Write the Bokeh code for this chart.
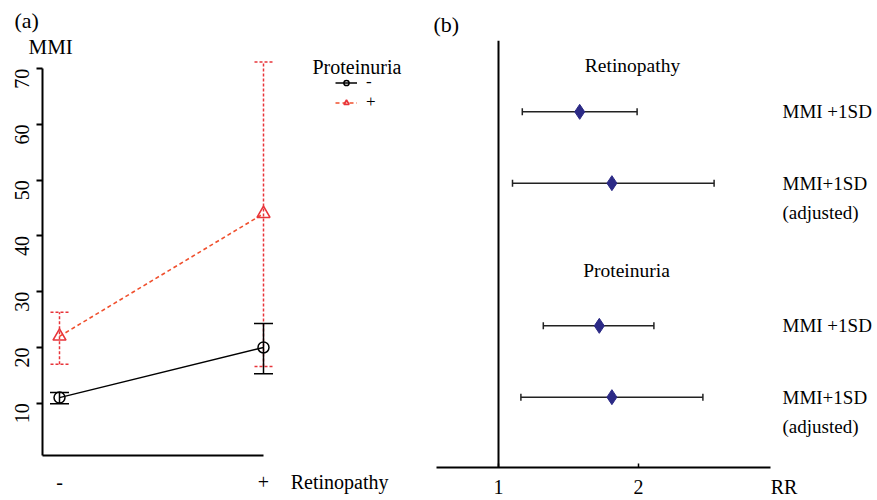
import math
from bokeh.plotting import figure
from bokeh.models import (Range1d, LinearAxis, FixedTicker, Whisker, ColumnDataSource,
                          TeeHead, Legend, LegendItem, Label, Span, Title)
from bokeh.layouts import row
from bokeh.embed import file_html
from bokeh.resources import INLINE

# ---------------- data: panel (a) ----------------
retino_cats = ["-", "+"]
neg_mean = [11.0, 20.0]
neg_lo = [9.9, 15.3]
neg_hi = [11.9, 24.3]
pos_mean = [22.0, 44.0]
pos_lo = [17.0, 16.6]
pos_hi = [26.3, 71.2]
y_ticks = [10, 20, 30, 40, 50, 60, 70]
protein_labels = ["-", "+"]

# ---------------- data: panel (b) ----------------
outcomes = ["Retinopathy", "Proteinuria"]
models = ["MMI +1SD", "MMI+1SD\n(adjusted)"]
rr = [1.58, 1.81, 1.72, 1.81]
rr_lo = [1.17, 1.10, 1.32, 1.16]
rr_hi = [1.99, 2.54, 2.11, 2.46]
rr_ticks = [1, 2]
null_rr = 1

FONT = "Liberation Serif"
RED = "#e8343a"
RED_LINE = "#f0502e"
NAVY = "#2c2a86"


def txt(**kw):
    base = dict(text_font=FONT, text_color="black")
    base.update(kw)
    return base


# ================= panel (a) =================
# frame: x 42..425, y 58..455 (canvas pixels)
XA0 = -17 / 204.0
XA1 = (425 - 59) / 204.0
YA0 = 10 - (455 - 402.7) / 5.573
YA1 = 70 + (68.3 - 58) / 5.573


def ax(px):
    return XA0 + (px - 42) / 204.0


def ay(py):
    return YA0 + (455 - py) / 5.573


pa = figure(width=425, height=500, x_range=Range1d(XA0, XA1), y_range=Range1d(YA0, YA1),
            x_axis_type=None, y_axis_type=None, output_backend="svg", toolbar_location=None,
            title=None, min_border_left=42, min_border_right=0, min_border_top=58,
            min_border_bottom=45, frame_align=False)
pa.outline_line_color = None

pa.add_layout(Title(text="MMI", align="left", offset=28 - 42, standoff=0,
                    text_font_size="21px", text_font_style="normal", **txt()), "above")
pa.add_layout(Title(text="(a)", align="left", offset=14 - 42, standoff=0,
                    text_font_size="22px", text_font_style="normal", **txt()), "above")

xs = list(range(len(retino_cats)))
RETINO_POS = 1.373          # where the x-axis title sits, right of "+"
xticks_a = xs + [RETINO_POS]
xlabels_a = {i: c for i, c in enumerate(retino_cats)}
xlabels_a[RETINO_POS] = "Retinopathy"

yaxis = LinearAxis(ticker=FixedTicker(ticks=y_ticks), bounds=(YA0, 70),
                   axis_line_width=2, major_tick_line_width=2, major_tick_out=6, major_tick_in=0,
                   minor_tick_out=0, minor_tick_in=0, major_label_orientation=math.pi / 2,
                   major_label_text_font=FONT, major_label_text_font_size="20px",
                   major_label_text_color="black", major_label_standoff=14)
pa.add_layout(yaxis, "left")

xaxis = LinearAxis(ticker=FixedTicker(ticks=xticks_a), major_label_overrides=xlabels_a,
                   bounds=(XA0, xs[-1]), axis_line_width=2, major_tick_out=0, major_tick_in=0,
                   minor_tick_out=0, minor_tick_in=0,
                   major_label_text_font=FONT, major_label_text_font_size="20px",
                   major_label_text_color="black", major_label_standoff=15)
pa.add_layout(xaxis, "below")

src_neg = ColumnDataSource(dict(x=xs, m=neg_mean, lo=neg_lo, hi=neg_hi))
src_pos = ColumnDataSource(dict(x=xs, m=pos_mean, lo=pos_lo, hi=pos_hi))

w_pos = Whisker(base="x", upper="hi", lower="lo", source=src_pos, dimension="height",
                line_color=RED, line_width=1.5, line_dash="3 2",
                upper_head=TeeHead(size=18, line_color=RED, line_width=1.5, line_dash="3 2"),
                lower_head=TeeHead(size=18, line_color=RED, line_width=1.5, line_dash="3 2"))
w_neg = Whisker(base="x", upper="hi", lower="lo", source=src_neg, dimension="height",
                line_color="black", line_width=1.5,
                upper_head=TeeHead(size=19, line_color="black", line_width=1.5),
                lower_head=TeeHead(size=19, line_color="black", line_width=1.5))
pa.add_layout(w_pos)
pa.add_layout(w_neg)

neg_line = pa.line("x", "m", source=src_neg, line_color="black", line_width=1.5)
neg_pts = pa.scatter("x", "m", source=src_neg, marker="circle", size=11, fill_color=None,
                     line_color="black", line_width=1.5)
pos_line = pa.line("x", "m", source=src_pos, line_color=RED_LINE, line_width=1.6, line_dash="4 3")
pos_pts = pa.scatter("x", "m", source=src_pos, marker="triangle", size=13, fill_color=None,
                     line_color=RED, line_width=1.6)

legend = Legend(items=[LegendItem(label=protein_labels[0], renderers=[neg_line, neg_pts]),
                       LegendItem(label=protein_labels[1], renderers=[pos_line, pos_pts])],
                location=(335 - 42, 455 - 112), glyph_width=22, glyph_height=13, label_height=19,
                label_standoff=9, padding=0, spacing=0, margin=0,
                border_line_color=None, background_fill_alpha=0,
                label_text_font=FONT, label_text_font_size="17px", label_text_color="black")
pa.add_layout(legend)

pa.add_layout(Label(x=ax(312), y=ay(67), text="Proteinuria", text_font_size="20px",
                    text_align="left", text_baseline="middle", **txt()))

# ================= panel (b) =================
# frame: x 436..877, y 40..468 (page pixels)
XB0 = 1 - 62 / 140.0
XB1 = 1 + (877 - 498) / 140.0
YB_TOP = -1.0
YB_BOT = (468 - 111.5) / 71.5


def bx(px):
    return 1 + (px - 498) / 140.0


def by(py):
    return (py - 111.5) / 71.5


pb = figure(width=452, height=500, x_range=Range1d(XB0, XB1), y_range=Range1d(YB_BOT, YB_TOP),
            x_axis_type=None, y_axis_type=None, output_backend="svg", toolbar_location=None,
            title=None, min_border_left=11, min_border_right=0, min_border_top=40,
            min_border_bottom=32, frame_align=False)
pb.outline_line_color = None

pb.add_layout(Title(text="(b)", align="left", offset=-3, standoff=8,
                    text_font_size="22px", text_font_style="normal", **txt()), "above")

RR_POS = 3.04               # where the axis title "RR" sits
xticks_b = rr_ticks + [RR_POS]
bxaxis = LinearAxis(ticker=FixedTicker(ticks=xticks_b, minor_ticks=rr_ticks),
                    major_label_overrides={RR_POS: "RR"}, bounds=(XB0, bx(770)),
                    axis_line_width=2, major_tick_in=0, major_tick_out=0,
                    minor_tick_in=4, minor_tick_out=0, minor_tick_line_width=1.5,
                    minor_tick_line_color="black",
                    major_label_text_font=FONT, major_label_text_font_size="20px",
                    major_label_text_color="black", major_label_standoff=8)
pb.add_layout(bxaxis, "below")

pb.add_layout(Span(location=null_rr, dimension="height", line_color="black", line_width=2))

pos = []
row_model = []
for gi, oc in enumerate(outcomes):
    for mi, md in enumerate(models):
        pos.append(gi * (len(models) + 1) + mi)
        row_model.append(md)

src_b = ColumnDataSource(dict(y=pos, rr=rr, lo=rr_lo, hi=rr_hi))
pb.add_layout(Whisker(base="y", upper="hi", lower="lo", source=src_b, dimension="width",
                      line_color="#222222", line_width=1.5,
                      upper_head=TeeHead(size=7, line_color="#222222", line_width=1.5),
                      lower_head=TeeHead(size=7, line_color="#222222", line_width=1.5)))
pb.scatter("rr", "y", source=src_b, marker="diamond", size=15, fill_color=NAVY,
           line_color=NAVY)

for oc, hx, hy in zip(outcomes, [632, 626], [65.5, 271]):
    pb.add_layout(Label(x=bx(hx), y=by(hy), text=oc, text_font_size="19.5px",
                        text_align="center", text_baseline="middle", **txt()))

line_gap = 29 / 71.5
for p_, md in zip(pos, row_model):
    for k, ln in enumerate(md.split("\n")):
        pb.add_layout(Label(x=bx(782), y=p_ + k * line_gap, text=ln, text_font_size="19px",
                            text_align="left", text_baseline="middle", **txt()))

layout = row(pa, pb)
open("out.html", "w").write(file_html(layout, INLINE))
